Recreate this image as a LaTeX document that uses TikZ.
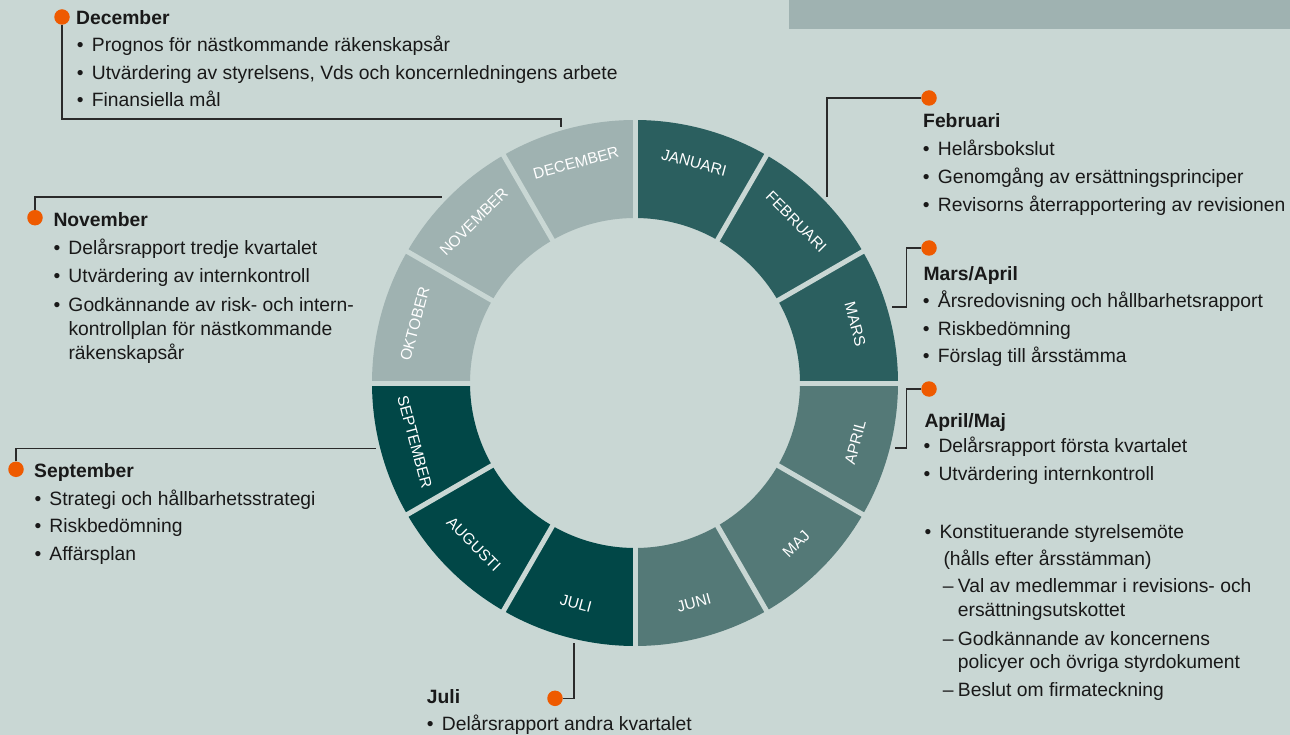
\documentclass[tikz,border=0pt]{standalone}
\usepackage{fontspec}
\setmainfont{Liberation Sans}
\definecolor{bgc}{HTML}{C9D7D4}
\definecolor{lightc}{HTML}{9FB2B1}
\definecolor{tealc}{HTML}{2B5F5F}
\definecolor{midc}{HTML}{547977}
\definecolor{darkc}{HTML}{014747}
\definecolor{dotc}{HTML}{EE5A00}
\definecolor{linec}{HTML}{2A2A2A}
\newcommand\bodyfnt{\fontsize{19.3}{23}\selectfont}
\newcommand\labfnt{\fontsize{15.5}{18}\selectfont}
\newcommand\bul{\makebox[15pt][l]{•}}
\newcommand\dsh{\makebox[15pt][l]{–}}
\begin{document}
\begin{tikzpicture}[x=1pt,y=-1pt,
  head/.style={font=\bodyfnt\bfseries, anchor=base west, inner sep=0pt, text=black!90},
  item/.style={font=\bodyfnt, anchor=base west, inner sep=0pt, text=black!90},
  monthlabel/.style={font=\labfnt, text=white, inner sep=0pt},
  dotnode/.style={circle, fill=dotc, minimum size=15.5pt, inner sep=0pt},
  conn/.style={draw=linec, line width=1.1pt}]
\useasboundingbox (0,0) rectangle (1290,735);
\fill[bgc] (0,0) rectangle (1290,735);
\fill[lightc] (789,0) rectangle (1290,29);

% ring
\begin{scope}[shift={(635,383)}, y=1pt]
  \foreach \m/\c/\lab in {75/tealc/JANUARI, 45/tealc/FEBRUARI, 15/tealc/MARS,
      -15/midc/APRIL, -45/midc/MAJ, -75/midc/JUNI,
      -105/darkc/JULI, -135/darkc/AUGUSTI, -165/darkc/SEPTEMBER,
      165/lightc/OKTOBER, 135/lightc/NOVEMBER, 105/lightc/DECEMBER}{
    \pgfmathsetmacro\aa{\m+15}
    \pgfmathsetmacro\ab{\m-15}
    \pgfmathsetmacro\rot{\m>0 ? \m-90 : \m+90}
    \fill[\c] (\aa:165) arc[start angle=\aa, end angle=\ab, radius=165]
      -- (\ab:263) arc[start angle=\ab, end angle=\aa, radius=263] -- cycle;
    \node[monthlabel, rotate=\rot] (m-\lab) at (\m:228) {\lab};
  }
  \foreach \a in {0,30,...,330}
    \draw[bgc, line width=5pt] (\a:158) -- (\a:270);
\end{scope}

% December
\node[dotnode] (decdot) at (62,17) {};
\coordinate (decA) at (561,119);
\coordinate (decB) at (561,127);
\draw[conn] (decdot.south) |- (decA) -- (decB);
\node[head] (dech) at (76,24.3) {December};
\node[item] (dec1) at (76.7,52) {\bul Prognos för nästkommande räkenskapsår};
\node[item] (dec2) at (76.7,79.5) {\bul Utvärdering av styrelsens, Vds och koncernledningens arbete};
\node[item] (dec3) at (76.7,107) {\bul Finansiella mål};

% Februari
\node[dotnode] (febdot) at (929,98) {};
\coordinate (febB) at (827,197);
\draw[conn] (febdot.west) -| (febB);
\node[head] (febh) at (923,128) {Februari};
\node[item] (feb1) at (922.7,156) {\bul Helårsbokslut};
\node[item] (feb2) at (922.7,184) {\bul Genomgång av ersättningsprinciper};
\node[item] (feb3) at (922.7,212) {\bul Revisorns återrapportering av revisionen};

% Mars/April
\node[dotnode] (mardot) at (929,248) {};
\coordinate (marA) at (906.5,307);
\coordinate (marB) at (892,307);
\draw[conn] (mardot.west) -| (marA) -- (marB);
\node[head] (marh) at (923.3,280) {Mars/April};
\node[item] (mar1) at (922.7,307.5) {\bul Årsredovisning och hållbarhetsrapport};
\node[item] (mar2) at (922.7,335) {\bul Riskbedömning};
\node[item] (mar3) at (922.7,362.5) {\bul Förslag till årsstämma};

% April/Maj
\node[dotnode] (aprdot) at (929,389) {};
\coordinate (aprA) at (906.5,448);
\coordinate (aprB) at (895,448);
\draw[conn] (aprdot.west) -| (aprA) -- (aprB);
\node[head] (aprh) at (924.3,427.3) {April/Maj};
\node[item] (apr1) at (923.3,452.7) {\bul Delårsrapport första kvartalet};
\node[item] (apr2) at (923.3,480) {\bul Utvärdering internkontroll};
\node[item] (apr3) at (924.3,538.3) {\bul Konstituerande styrelsemöte};
\node[item] (apr4) at (943.3,565) {(hålls efter årsstämman)};
\node[item] (apr5) at (942.7,592.7) {\dsh Val av medlemmar i revisions- och};
\node[item] (apr6) at (957.7,616) {ersättningsutskottet};
\node[item] (apr7) at (942.7,645) {\dsh Godkännande av koncernens};
\node[item] (apr8) at (957.7,668.3) {policyer och övriga styrdokument};
\node[item] (apr9) at (942.7,696.7) {\dsh Beslut om firmateckning};

% Juli
\node[dotnode] (juldot) at (555,698.3) {};
\coordinate (julA) at (574,642.7);
\draw[conn] (juldot.east) -| (julA);
\node[head] (julh) at (426.7,703.3) {Juli};
\node[item] (jul1) at (426.7,730) {\bul Delårsrapport andra kvartalet};

% November
\node[dotnode] (novdot) at (35,217.7) {};
\coordinate (novA) at (442,197);
\draw[conn] (novdot.north) |- (novA);
\node[head] (novh) at (53.3,226.7) {November};
\node[item] (nov1) at (53.3,255) {\bul Delårsrapport tredje kvartalet};
\node[item] (nov2) at (53.3,283) {\bul Utvärdering av internkontroll};
\node[item] (nov3) at (53.3,311) {\bul Godkännande av risk- och intern-};
\node[item] (nov4) at (68.3,335) {kontrollplan för nästkommande};
\node[item] (nov5) at (68.3,359) {räkenskapsår};

% September
\node[dotnode] (sepdot) at (16,469.3) {};
\coordinate (sepA) at (376,448.3);
\draw[conn] (sepdot.north) |- (sepA);
\node[head] (seph) at (34,477.7) {September};
\node[item] (sep1) at (34.3,505) {\bul Strategi och hållbarhetsstrategi};
\node[item] (sep2) at (34.3,532.7) {\bul Riskbedömning};
\node[item] (sep3) at (34.3,560) {\bul Affärsplan};
\end{tikzpicture}
\end{document}
